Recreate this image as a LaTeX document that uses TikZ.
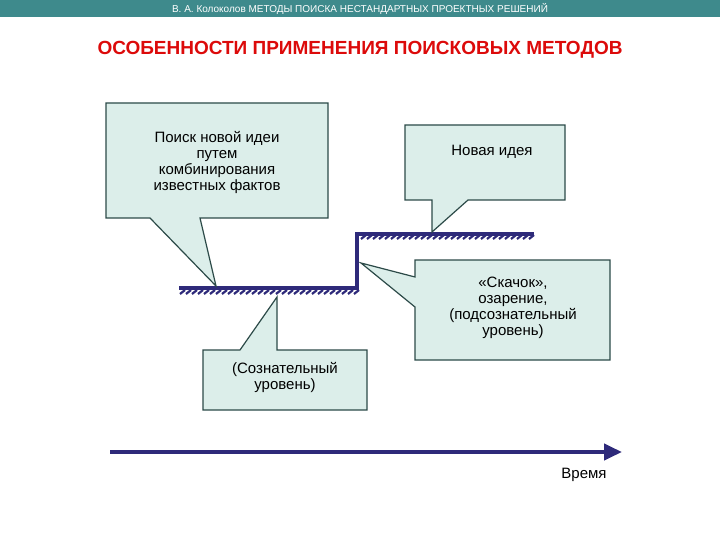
\documentclass[tikz,border=0pt]{standalone}
\usepackage{fontspec}
\setmainfont{Liberation Sans}
\usetikzlibrary{patterns,arrows.meta}
\definecolor{bar}{HTML}{3E8A8C}
\definecolor{cfill}{HTML}{DCEEEA}
\definecolor{cline}{HTML}{2C4A48}
\definecolor{navy}{HTML}{2E2A7A}
\begin{document}
\begin{tikzpicture}[x=1pt,y=-1pt,
  callout/.style={fill=cfill,draw=cline,line width=1.2pt,line join=miter},
  ctext/.style={align=center,font=\fontsize{15}{16}\selectfont,text=black},
  hatch/.style={pattern=north east lines,pattern color=navy}]
\useasboundingbox (0,0) rectangle (720,540);
\fill[bar] (0,0) rectangle (720,17);
\node[text=white,font=\fontsize{10}{11}\selectfont] (hdr) at (360,8.5) {В. А. Колоколов МЕТОДЫ ПОИСКА НЕСТАНДАРТНЫХ ПРОЕКТНЫХ РЕШЕНИЙ};
\node[text={rgb,255:red,220;green,10;blue,10},font=\bfseries\fontsize{19}{22}\selectfont] (title) at (360,50) {ОСОБЕННОСТИ ПРИМЕНЕНИЯ ПОИСКОВЫХ МЕТОДОВ};
% steps
\foreach \i in {0,...,29} {\draw[navy,line width=2.2pt] (180+\i*6,294) -- (185+\i*6,290);}
\foreach \i in {0,...,28} {\draw[navy,line width=2.2pt] (361+\i*6,239) -- (366+\i*6,235);}
\draw[navy,line width=4pt,line cap=square] (179,288) -- (357,288) -- (357,234) -- (534,234);
% callouts
\draw[callout] (106,103) -- (328,103) -- (328,218) -- (200,218) -- (216,286) -- (150,218) -- (106,218) -- cycle;
\node[ctext] (c1) at (217,162) {Поиск новой идеи\\путем\\комбинирования\\известных фактов};
\draw[callout] (405,125) -- (565,125) -- (565,200) -- (468,200) -- (432,232) -- (432,200) -- (405,200) -- cycle;
\node[ctext] (c2) at (492,152) {Новая идея};
\draw[callout] (415,260) -- (610,260) -- (610,360) -- (415,360) -- (415,307) -- (361,263) -- (415,277) -- cycle;
\node[ctext] (c3) at (513,308) {«Скачок»,\\озарение,\\(подсознательный\\уровень)};
\draw[callout] (203,350) -- (240,350) -- (277,297) -- (277,350) -- (367,350) -- (367,410) -- (203,410) -- cycle;
\node[ctext] (c4) at (285,377) {(Сознательный\\уровень)};
% axis
\coordinate (a0) at (110,452);
\coordinate (a1) at (622,452);
\draw[navy,line width=4pt,-{Triangle[length=18pt,width=16pt]}] (a0) -- (a1);
\node[ctext] (t) at (584,475) {Время};
\end{tikzpicture}
\end{document}
